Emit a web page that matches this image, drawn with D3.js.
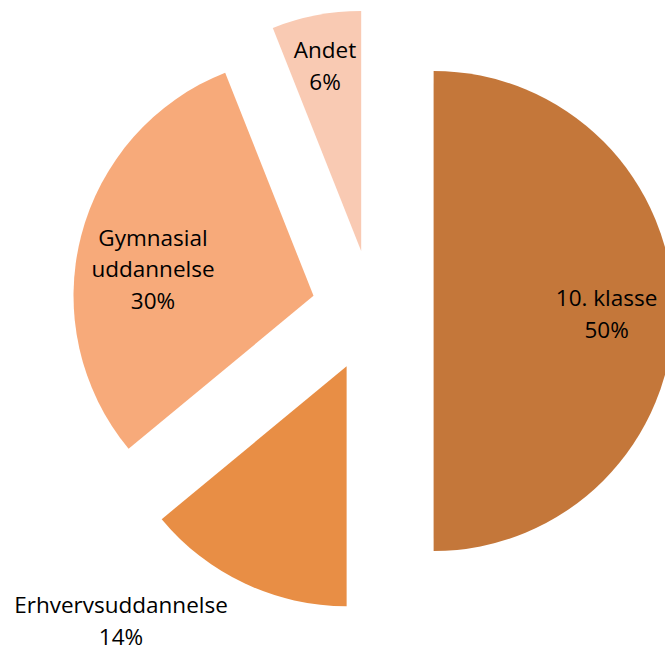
<!DOCTYPE html>
<html><head><meta charset="utf-8">
<script src="https://cdn.jsdelivr.net/npm/d3@7"></script>
<style>html,body{margin:0;padding:0;background:#fff;}svg{display:block;}</style>
</head><body>
<svg id="chart" width="665" height="651"></svg>
<script>
const categories = ["10. klasse", "Erhvervsuddannelse", "Gymnasial uddannelse", "Andet"];
const labelLines = [["10. klasse"], ["Erhvervsuddannelse"], ["Gymnasial", "uddannelse"], ["Andet"]];
const values = [50, 14, 30, 6];
const colors = ["#C4773A", "#E88E45", "#F7AA7A", "#F9CAB3"];

const svg = d3.select("#chart");
const cx = 372.6, cy = 311, R = 240, explode = 61;
const g = svg.append("g").attr("transform", `translate(${cx},${cy})`);

const pie = d3.pie().sort(null).value(d => d)(values);
const arc = d3.arc().innerRadius(0).outerRadius(R);
const total = d3.sum(values);

// label anchor (midpoint of baselines) relative to the pie centre — layout only
const labelPos = [[234, 11], [-251.6, 318], [-219.6, -34], [-47.6, -237]];

pie.forEach((d, i) => {
  const mid = (d.startAngle + d.endAngle) / 2;
  const ox = Math.sin(mid) * explode, oy = -Math.cos(mid) * explode;
  g.append("path")
    .attr("d", arc(d))
    .attr("transform", `translate(${ox},${oy})`)
    .attr("fill", colors[i]);
});

pie.forEach((d, i) => {
  const [lx, ly] = labelPos[i];
  const lines = labelLines[i].concat([Math.round(values[i] / total * 100) + "%"]);
  const lh = 31.5;
  const t = g.append("text")
    .attr("text-anchor", "middle")
    .attr("font-family", "'Open Sans', Lato, sans-serif")
    .attr("font-size", 22.5)
    .attr("fill", "#000");
  lines.forEach((s, k) => {
    t.append("tspan")
      .attr("x", lx)
      .attr("y", ly + (k - (lines.length - 1) / 2) * lh)
      .text(s);
  });
});
</script>
</body></html>
